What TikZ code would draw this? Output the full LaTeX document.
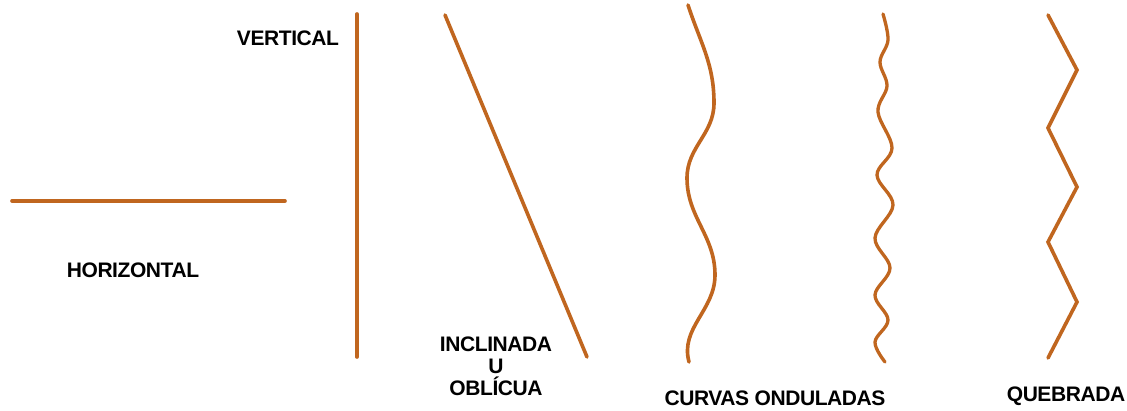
\documentclass[tikz,border=0pt]{standalone}
\usepackage{fontspec}
\setmainfont{Liberation Sans}
\definecolor{linecol}{HTML}{C0661F}
\begin{document}
\begin{tikzpicture}[x=1pt,y=-1pt,
  ln/.style={draw=linecol,line width=3.6pt,line cap=round,line join=round},
  lbl/.style={font=\fontsize{21}{22}\selectfont\bfseries\addfontfeatures{LetterSpace=-2},inner sep=0pt,align=center}]
\useasboundingbox[fill=white] (0,0) rectangle (1127,411);
% horizontal
\draw[ln] (12,201) -- (285,201);
% vertical
\draw[ln] (357,14) -- (357,357);
% oblique
\draw[ln] (445,15) -- (587,357);
% curved
\draw[ln] (688,5) to[out=-72,in=90] (714,103) to[out=-90,in=90] (687,178) to[out=-90,in=90] (715,275) to[out=-90,in=105] (689,362);
% wavy
\draw[ln,line width=3.3pt] plot[smooth,tension=0.6] coordinates {(883,14) (888,40) (880,62) (887,86) (878,112) (892,148) (877,175) (893,205) (875,238) (890,268) (875,295) (888,320) (875,342) (885,362)};
% broken
\draw[ln,line join=miter] (1048,15) -- (1077,70) -- (1048,128) -- (1077,187) -- (1048,242) -- (1077,302) -- (1048,358);
% labels
\node[lbl] (vert) at (288,38) {VERTICAL};
\node[lbl] (hor) at (133,270) {HORIZONTAL};
\node[lbl] (incl) at (496,366) {INCLINADA\\U\\OBLÍCUA};
\node[lbl] (curv) at (775,398) {CURVAS ONDULADAS};
\node[lbl] (queb) at (1066,396) {QUEBRADA};
\end{tikzpicture}
\end{document}
